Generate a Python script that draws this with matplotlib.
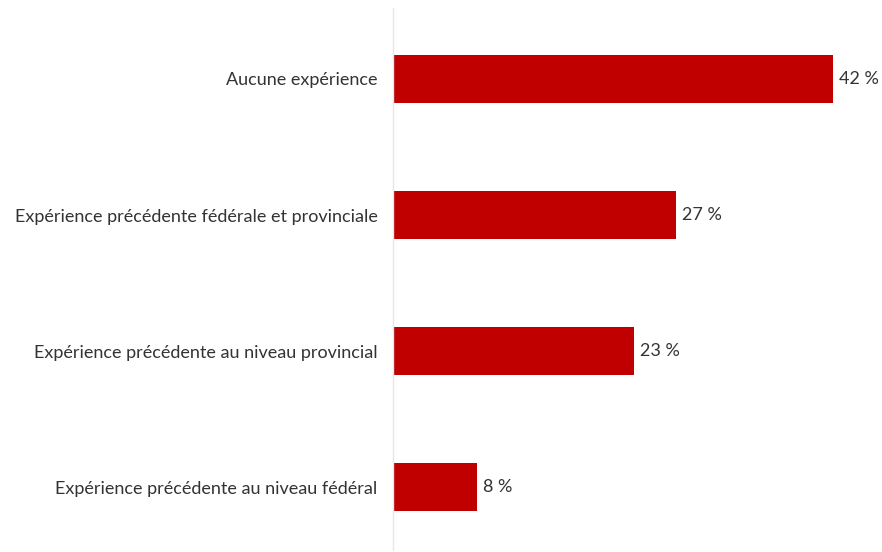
import matplotlib.pyplot as plt

categories = [
    "Aucune expérience",
    "Expérience précédente fédérale et provinciale",
    "Expérience précédente au niveau provincial",
    "Expérience précédente au niveau fédéral",
]
values = [42, 27, 23, 8]

plt.rcParams['font.family'] = ['Lato', 'DejaVu Sans']

fig = plt.figure(figsize=(8.82, 5.52), dpi=100)
ax = fig.add_axes([393 / 882, 2 / 552, 482 / 882, 542 / 552])

pos = list(range(len(categories)))
ax.barh(pos, values, height=0.353, color='#C00000', zorder=2)

for p, v in zip(pos, values):
    ax.text(v + 0.6, p, f"{v} %", va='center', ha='left',
            fontsize=13, color='#333333')

ax.set_xlim(0, 46)
ax.set_ylim(3.463, -0.522)
ax.set_yticks(pos)
ax.set_yticklabels(categories, fontsize=13, color='#333333')
ax.tick_params(axis='y', length=0, pad=11)
ax.set_xticks([])

for s in ['top', 'right', 'bottom']:
    ax.spines[s].set_visible(False)
ax.spines['left'].set_color('#e6e6e6')
ax.spines['left'].set_linewidth(1.0)

fig.savefig('out.png', dpi=100, facecolor='white')
